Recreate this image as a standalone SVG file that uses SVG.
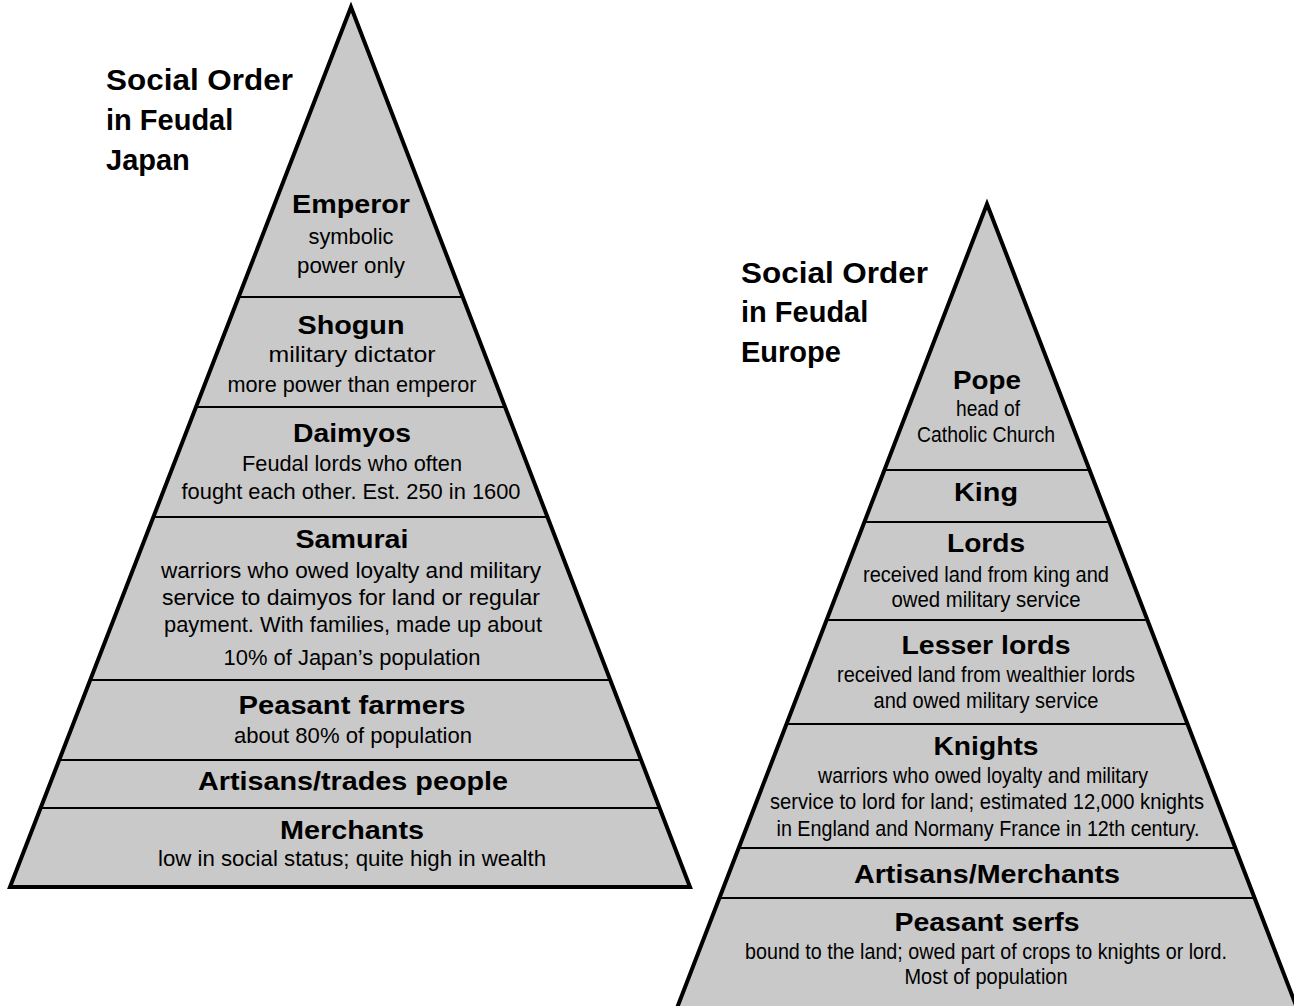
<svg xmlns="http://www.w3.org/2000/svg" width="1294" height="1006" viewBox="0 0 1294 1006">
<style>
.pyr{fill:#c9c9c9;stroke:#000;stroke-width:4;stroke-linejoin:miter}
.div{stroke:#000;stroke-width:2.2;fill:none}
.title{font-family:"Liberation Sans",Arial,sans-serif;font-weight:bold;font-size:29px;fill:#000}
.h{font-family:"Liberation Sans",Arial,sans-serif;font-weight:bold;font-size:25px;fill:#000;text-anchor:middle}
.b{font-family:"Liberation Sans Narrow","Liberation Sans",Arial,sans-serif;font-size:22px;fill:#000;text-anchor:middle}
</style>
<rect width="1294" height="1006" fill="#fff"/>
<g id="japan-pyramid">
<polygon class="pyr" points="351,7 10,887 690,887"/>
</g>
<g id="europe-pyramid">
<polygon class="pyr" points="987,204 677,1008 1297,1008"/>
</g>
<g id="connectors">
<line class="div" x1="239" y1="297" x2="463" y2="297"/>
<line class="div" x1="196" y1="407" x2="506" y2="407"/>
<line class="div" x1="154" y1="517" x2="548" y2="517"/>
<line class="div" x1="91" y1="680" x2="611" y2="680"/>
<line class="div" x1="60" y1="760" x2="642" y2="760"/>
<line class="div" x1="41" y1="808" x2="661" y2="808"/>
<line class="div" x1="884" y1="470" x2="1090" y2="470"/>
<line class="div" x1="864" y1="522" x2="1110" y2="522"/>
<line class="div" x1="826" y1="620" x2="1148" y2="620"/>
<line class="div" x1="786" y1="724" x2="1188" y2="724"/>
<line class="div" x1="738" y1="848" x2="1236" y2="848"/>
<line class="div" x1="719" y1="898" x2="1255" y2="898"/>
</g>
<g id="title-japan">
<text class="title" x="106" y="90" textLength="187" lengthAdjust="spacingAndGlyphs">Social Order</text>
<text class="title" x="106" y="130">in Feudal</text>
<text class="title" x="106" y="170">Japan</text>
</g>
<g id="title-europe">
<text class="title" x="741" y="283" textLength="187" lengthAdjust="spacingAndGlyphs">Social Order</text>
<text class="title" x="741" y="322">in Feudal</text>
<text class="title" x="741" y="362">Europe</text>
</g>
<g id="emperor">
<text class="h" x="351" y="213" textLength="118" lengthAdjust="spacingAndGlyphs">Emperor</text>
<text class="b" x="351" y="244" textLength="85" lengthAdjust="spacingAndGlyphs">symbolic</text>
<text class="b" x="351" y="273" textLength="108" lengthAdjust="spacingAndGlyphs">power only</text>
</g>
<g id="shogun">
<text class="h" x="351" y="334" textLength="107" lengthAdjust="spacingAndGlyphs">Shogun</text>
<text class="b" x="352" y="362" textLength="167" lengthAdjust="spacingAndGlyphs">military dictator</text>
<text class="b" x="352" y="392" textLength="249" lengthAdjust="spacingAndGlyphs">more power than emperor</text>
</g>
<g id="daimyos">
<text class="h" x="352" y="442" textLength="118" lengthAdjust="spacingAndGlyphs">Daimyos</text>
<text class="b" x="352" y="471" textLength="220" lengthAdjust="spacingAndGlyphs">Feudal lords who often</text>
<text class="b" x="351" y="499" textLength="339" lengthAdjust="spacingAndGlyphs">fought each other. Est. 250 in 1600</text>
</g>
<g id="samurai">
<text class="h" x="352" y="548" textLength="113" lengthAdjust="spacingAndGlyphs">Samurai</text>
<text class="b" x="351" y="578" textLength="380" lengthAdjust="spacingAndGlyphs">warriors who owed loyalty and military</text>
<text class="b" x="351" y="605" textLength="378" lengthAdjust="spacingAndGlyphs">service to daimyos for land or regular</text>
<text class="b" x="353" y="632" textLength="378" lengthAdjust="spacingAndGlyphs">payment. With families, made up about</text>
<text class="b" x="352" y="665" textLength="257" lengthAdjust="spacingAndGlyphs">10% of Japan’s population</text>
</g>
<g id="peasant-farmers">
<text class="h" x="352" y="714" textLength="227" lengthAdjust="spacingAndGlyphs">Peasant farmers</text>
<text class="b" x="353" y="743" textLength="238" lengthAdjust="spacingAndGlyphs">about 80% of population</text>
</g>
<g id="artisans-trades">
<text class="h" x="353" y="790" textLength="310" lengthAdjust="spacingAndGlyphs">Artisans/trades people</text>
</g>
<g id="merchants">
<text class="h" x="352" y="839" textLength="144" lengthAdjust="spacingAndGlyphs">Merchants</text>
<text class="b" x="352" y="866" textLength="388" lengthAdjust="spacingAndGlyphs">low in social status; quite high in wealth</text>
</g>
<g id="pope">
<text class="h" x="987" y="389" textLength="68" lengthAdjust="spacingAndGlyphs">Pope</text>
<text class="b" x="988" y="416" textLength="64" lengthAdjust="spacingAndGlyphs">head of</text>
<text class="b" x="986" y="442" textLength="138" lengthAdjust="spacingAndGlyphs">Catholic Church</text>
</g>
<g id="king">
<text class="h" x="986" y="501" textLength="64" lengthAdjust="spacingAndGlyphs">King</text>
</g>
<g id="lords">
<text class="h" x="986" y="552" textLength="78" lengthAdjust="spacingAndGlyphs">Lords</text>
<text class="b" x="986" y="582" textLength="246" lengthAdjust="spacingAndGlyphs">received land from king and</text>
<text class="b" x="986" y="607" textLength="189" lengthAdjust="spacingAndGlyphs">owed military service</text>
</g>
<g id="lesser-lords">
<text class="h" x="986" y="654" textLength="169" lengthAdjust="spacingAndGlyphs">Lesser lords</text>
<text class="b" x="986" y="682" textLength="298" lengthAdjust="spacingAndGlyphs">received land from wealthier lords</text>
<text class="b" x="986" y="708" textLength="225" lengthAdjust="spacingAndGlyphs">and owed military service</text>
</g>
<g id="knights">
<text class="h" x="986" y="755" textLength="105" lengthAdjust="spacingAndGlyphs">Knights</text>
<text class="b" x="983" y="783" textLength="330" lengthAdjust="spacingAndGlyphs">warriors who owed loyalty and military</text>
<text class="b" x="987" y="809" textLength="434" lengthAdjust="spacingAndGlyphs">service to lord for land; estimated 12,000 knights</text>
<text class="b" x="988" y="836" textLength="423" lengthAdjust="spacingAndGlyphs">in England and Normany France in 12th century.</text>
</g>
<g id="artisans-merchants">
<text class="h" x="987" y="883" textLength="266" lengthAdjust="spacingAndGlyphs">Artisans/Merchants</text>
</g>
<g id="peasant-serfs">
<text class="h" x="987" y="931" textLength="185" lengthAdjust="spacingAndGlyphs">Peasant serfs</text>
<text class="b" x="986" y="959" textLength="482" lengthAdjust="spacingAndGlyphs">bound to the land; owed part of crops to knights or lord.</text>
<text class="b" x="986" y="984" textLength="163" lengthAdjust="spacingAndGlyphs">Most of population</text>
</g>
</svg>
